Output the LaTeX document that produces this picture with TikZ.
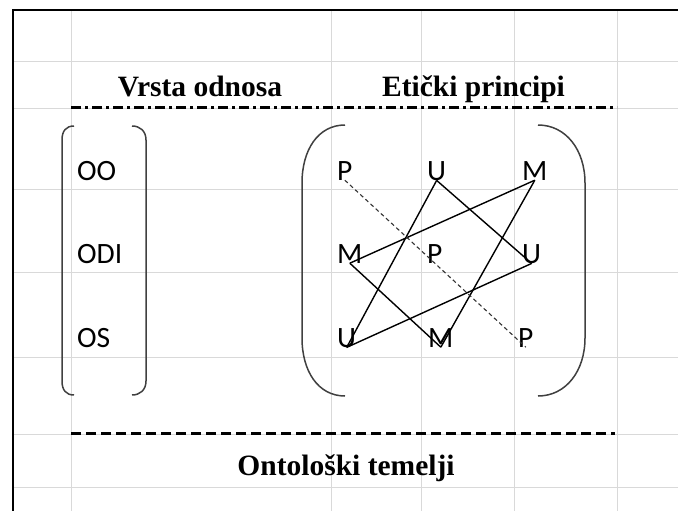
\documentclass[tikz,border=0pt]{standalone}
\usepackage{fontspec}
\setmainfont{Liberation Serif}
\newfontfamily\carlito{Carlito}
\tikzset{
  cell/.style={draw=gray!30, line width=1pt},
  title/.style={font=\bfseries\fontsize{29.5}{29.5}\selectfont, anchor=base, inner sep=0pt},
  letter/.style={font=\carlito\fontsize{29.5}{29.5}\selectfont, anchor=base west, inner sep=0pt},
  paren/.style={draw=black!75, line width=1.5pt},
  link/.style={line width=1.4pt},
  plink/.style={line width=1.1pt, draw=black!80, dash pattern=on 4pt off 3pt},
}
\begin{document}
\begin{tikzpicture}[x=1pt,y=-1pt]
  \useasboundingbox (0,0) rectangle (678,511);
  % sheet grid and frame
  \foreach \gx in {71,331,421,514,617} \draw[cell] (\gx,10) -- (\gx,511);
  \foreach \gy in {62,109,189,272,357,434,487} \draw[cell] (12,\gy) -- (678,\gy);
  \draw[line width=2pt] (12.5,511) -- (12.5,10) -- (678,10);

  \node[title] (vrsta) at (200,97) {Vrsta odnosa};
  \node[title] (eticki) at (473.5,97) {Etički principi};
  \node[title] (temelji) at (346,475) {Ontološki temelji};

  \coordinate (top1) at (71,108);
  \coordinate (top2) at (617,108);
  \coordinate (bot1) at (71,433.5);
  \coordinate (bot2) at (615,433.5);
  \draw[line width=3pt, dash pattern=on 10pt off 4pt on 3pt off 4pt] (top1) -- (top2);
  \draw[line width=3pt, dash pattern=on 10pt off 5pt] (bot1) -- (bot2);

  % brackets
  \draw[paren] (74,126) .. controls (66,126) and (62,131) .. (62,140) -- (62,381)
    .. controls (62,390) and (66,395) .. (74,395);
  \draw[paren] (132,126) .. controls (140,126) and (146,131) .. (146,140) -- (146,381)
    .. controls (146,390) and (140,395) .. (132,395);
  \draw[paren] (345,125) .. controls (318,125) and (302,150) .. (302,183) -- (302,338)
    .. controls (302,371) and (318,396) .. (345,396);
  \draw[paren] (538,125) .. controls (566,125) and (585,150) .. (585,183) -- (585,338)
    .. controls (585,371) and (566,396) .. (538,396);

  \node[letter] (oo) at (77,180) {OO};
  \node[letter] (odi) at (77,263) {ODI};
  \node[letter] (os) at (77,347) {OS};

  \node[letter] (p1) at (337,180) {P};
  \node[letter] (u1) at (427,180) {U};
  \node[letter] (m1) at (522,180) {M};
  \node[letter] (m2) at (337,263) {M};
  \node[letter] (p2) at (427,263) {P};
  \node[letter] (u2) at (522,263) {U};
  \node[letter] (u3) at (337,347) {U};
  \node[letter] (m3) at (428,347) {M};
  \node[letter] (p3) at (518,347) {P};

  \draw (u1.south) edge[link] (u2.south);
  \draw (u1.south) edge[link] (u3.south);
  \draw (u2.south) edge[link] (u3.south);
  \draw (m1.south) edge[link] (m2.south);
  \draw (m1.south) edge[link] (m3.south);
  \draw (m2.south) edge[link] (m3.south);
  \draw (p1.south) edge[plink] (p3.south);
\end{tikzpicture}
\end{document}
